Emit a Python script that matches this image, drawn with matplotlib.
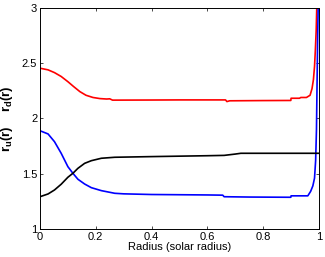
import numpy as np
import matplotlib.pyplot as plt

plt.rcParams['font.family'] = ['Liberation Sans', 'DejaVu Sans']
plt.rcParams['mathtext.fontset'] = 'custom'
plt.rcParams['mathtext.rm'] = 'Liberation Sans'
plt.rcParams['mathtext.bf'] = 'Liberation Sans:bold'
plt.rcParams['mathtext.it'] = 'Liberation Sans:italic'

# radius points (solar radius) and the three profiles
r_red = [0, 0.029, 0.052, 0.076, 0.1, 0.12, 0.143, 0.165, 0.19, 0.215, 0.239, 0.25,
         0.26, 0.4, 0.5, 0.665, 0.67, 0.68, 0.8, 0.899, 0.9, 0.93, 0.935, 0.955,
         0.968, 0.975, 0.98, 0.984, 0.987, 0.99, 0.992, 0.995]
red = [2.455, 2.44, 2.415, 2.38, 2.333, 2.29, 2.243, 2.21, 2.19, 2.18, 2.176, 2.178,
       2.166, 2.167, 2.168, 2.168, 2.153, 2.16, 2.162, 2.163, 2.183, 2.183, 2.19, 2.19,
       2.21, 2.27, 2.35, 2.47, 2.62, 2.8, 3.0, 3.2]

r_blue = [0, 0.029, 0.052, 0.076, 0.1, 0.118, 0.136, 0.16, 0.184, 0.22, 0.268, 0.3,
          0.4, 0.5, 0.6, 0.655, 0.66, 0.75, 0.899, 0.9, 0.96, 0.97, 0.978, 0.984,
          0.988, 0.991, 0.993, 0.995, 0.997, 1.0]
blue = [1.889, 1.86, 1.79, 1.685, 1.564, 1.504, 1.45, 1.407, 1.374, 1.347, 1.323, 1.318,
        1.312, 1.31, 1.308, 1.306, 1.292, 1.289, 1.287, 1.30, 1.30, 1.34, 1.39, 1.46,
        1.62, 1.9, 2.3, 2.7, 3.0, 3.3]

r_black = [0, 0.029, 0.052, 0.076, 0.1, 0.118, 0.136, 0.16, 0.184, 0.22, 0.268, 0.4,
           0.5, 0.6, 0.66, 0.7, 0.72, 0.8, 0.9, 1.0]
black = [1.292, 1.317, 1.353, 1.405, 1.468, 1.504, 1.549, 1.594, 1.618, 1.64, 1.649, 1.655,
         1.659, 1.663, 1.666, 1.678, 1.685, 1.685, 1.685, 1.685]

xticks = [0, 0.2, 0.4, 0.6, 0.8, 1]
xtick_labels = ['0', '0.2', '0.4', '0.6', '0.8', '1']
yticks = [1, 1.5, 2, 2.5, 3]
ytick_labels = ['1', '1.5', '2', '2.5', '3']

fig = plt.figure(figsize=(3.25, 2.57), dpi=100)
ax = fig.add_axes([0.123, 0.109, 0.8585, 0.860])

ax.plot(r_red, red, color='red', lw=1.2)
ax.plot(r_blue, blue, color='blue', lw=1.2)
ax.plot(r_black, black, color='black', lw=1.2)

ax.set_xlim(0, 1)
ax.set_ylim(1, 3)
ax.set_xticks(xticks)
ax.set_xticklabels(xtick_labels)
ax.set_yticks(yticks)
ax.set_yticklabels(ytick_labels)
ax.tick_params(direction='in', top=True, right=True, length=2.5, width=0.5,
               labelsize=8, pad=2)
for s in ax.spines.values():
    s.set_linewidth(0.7)

ax.set_xlabel('Radius (solar radius)', fontsize=8, labelpad=0)
ax.set_ylabel(r'$\mathbf{r_u(r)}$    $\mathbf{r_d(r)}$', fontsize=9.5, labelpad=5)

fig.savefig('out.png', dpi=100)
